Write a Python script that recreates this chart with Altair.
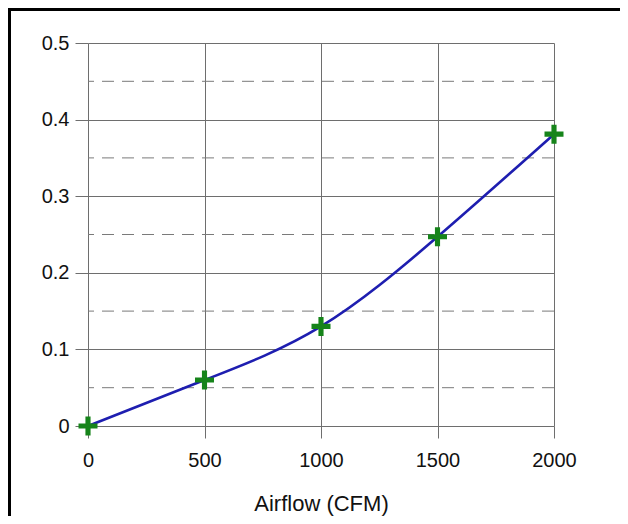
import altair as alt
import pandas as pd

airflow = [0, 500, 1000, 1500, 2000]
values = [0.0, 0.060, 0.130, 0.247, 0.381]
x_ticks = [0, 500, 1000, 1500, 2000]
y_ticks = [0, 0.1, 0.2, 0.3, 0.4, 0.5]
y_dashed = [0.05, 0.15, 0.25, 0.35, 0.45]

df = pd.DataFrame({"airflow": airflow, "value": values})
dash_df = pd.DataFrame({"y": y_dashed})

FONT = "Liberation Sans"
GRID = "#6e6e6e"

xscale = alt.Scale(domain=[0, 2000], nice=False, zero=True)
yscale = alt.Scale(domain=[0, 0.5], nice=False, zero=True)

x_enc = alt.X(
    "airflow:Q",
    scale=xscale,
    title="Airflow (CFM)",
    axis=alt.Axis(
        values=x_ticks, format="d", grid=True, domain=False, labelFlush=False,
        tickSize=12, labelPadding=12, titleY=84, titleBaseline="alphabetic",
        titleFontSize=22, titleFontWeight="normal",
    ),
)
y_enc = alt.Y(
    "value:Q",
    scale=yscale,
    title=None,
    axis=alt.Axis(
        values=y_ticks, format=".1~f", grid=True, domain=False, labelFlush=False,
        tickSize=13, labelPadding=6,
    ),
)

dashed = alt.Chart(dash_df).mark_rule(
    color="#7a7a7a", strokeWidth=1, strokeDash=[12, 8]
).encode(y=alt.Y("y:Q", scale=yscale))

line = alt.Chart(df).mark_line(
    color="#1e1eb0", strokeWidth=2.6, interpolate="natural"
).encode(x=x_enc, y=y_enc)

plus = "M-0.27,-1H0.27V-0.27H1V0.27H0.27V1H-0.27V0.27H-1V-0.27H-0.27Z"
points = alt.Chart(df).mark_point(
    shape=plus, filled=True, size=361, color="#16841a", opacity=1
).encode(x="airflow:Q", y="value:Q")

frame = alt.Chart(alt.Data(values=[{}])).mark_rect(
    fill=None, stroke="#000000", strokeWidth=3
).encode(
    x=alt.value(-78.5), x2=alt.value(700),
    y=alt.value(-33.5), y2=alt.value(700),
)

chart = alt.layer(dashed, line, points, frame).properties(
    width=466,
    height=383,
    autosize=alt.AutoSizeParams(type="none"),
    padding={"left": 80, "top": 35, "right": 66, "bottom": 90},
).configure_view(stroke=None).configure_axis(
    labelFont=FONT, titleFont=FONT, labelFontSize=20, labelColor="#111111",
    titleColor="#111111", gridColor=GRID, gridWidth=1, tickColor=GRID,
    tickWidth=1,
)

chart.save("out.html", embed_options={"renderer": "svg", "actions": False})
